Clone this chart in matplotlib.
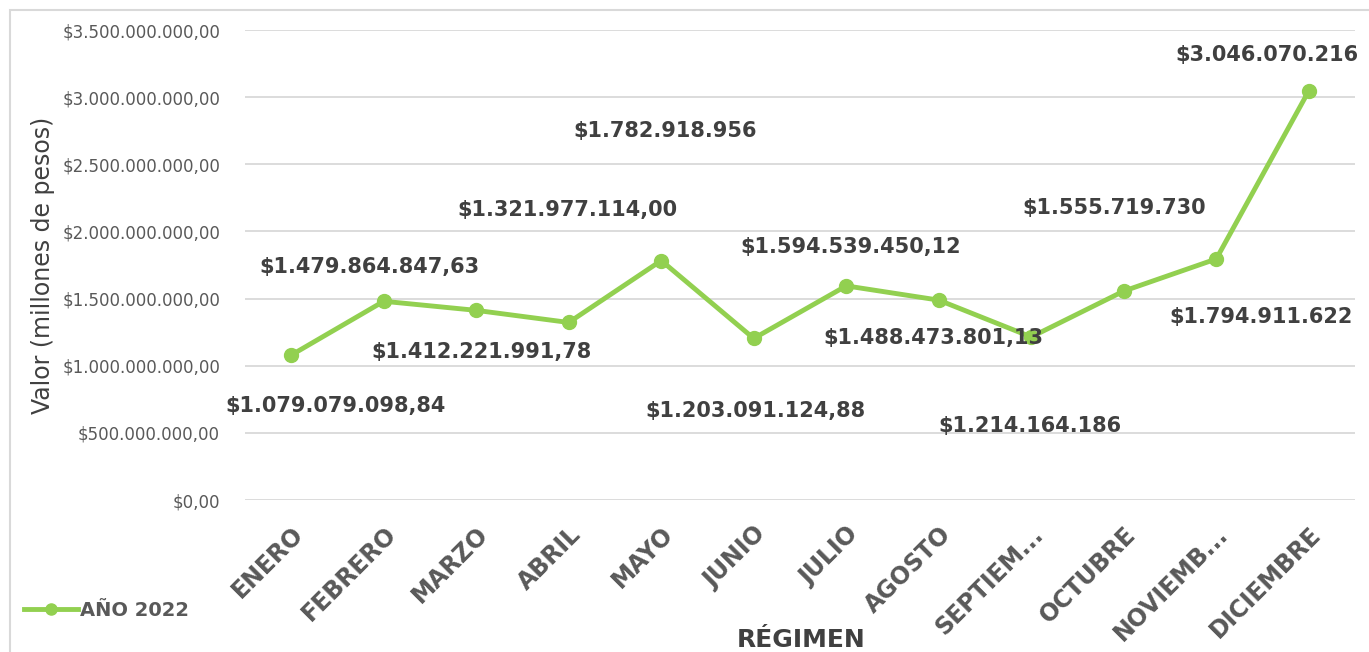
import matplotlib.pyplot as plt
from matplotlib.patches import Rectangle
from matplotlib.ticker import FuncFormatter, MultipleLocator

meses = ["ENERO", "FEBRERO", "MARZO", "ABRIL", "MAYO", "JUNIO", "JULIO",
         "AGOSTO", "SEPTIEM...", "OCTUBRE", "NOVIEMB...", "DICIEMBRE"]
valores = [1079079098.84, 1479864847.63, 1412221991.78, 1321977114.00,
           1782918956, 1203091124.88, 1594539450.12, 1488473801.13,
           1214164186, 1555719730, 1794911622, 3046070216]
etiquetas = ["$1.079.079.098,84", "$1.479.864.847,63", "$1.412.221.991,78",
             "$1.321.977.114,00", "$1.782.918.956", "$1.203.091.124,88",
             "$1.594.539.450,12", "$1.488.473.801,13", "$1.214.164.186",
             "$1.555.719.730", "$1.794.911.622", "$3.046.070.216"]

# desplazamiento de cada etiqueta (puntos)
desplaz = [(32, -37), (-10, 25), (4, -30), (-1, 81), (3, 93), (1, -52),
           (3, 28), (-4, -27), (-1, -64), (-7, 60), (32, -42), (-30, 26)]

verde = "#92D050"
gris = "#595959"
oscuro = "#404040"


def pesos(v, pos):
    s = f"{v:,.2f}"
    s = s.replace(",", "X").replace(".", ",").replace("X", ".")
    return "$" + s


fig = plt.figure(figsize=(13.69, 6.52), dpi=100)
fig.patches.append(Rectangle((10 / 1369, -0.1), 1.2, (652 - 10) / 652 + 0.1,
                             transform=fig.transFigure, fill=False,
                             edgecolor="#D9D9D9", linewidth=1.5))
ax = fig.add_axes([245 / 1369, (652 - 500) / 652, 1110 / 1369, 470 / 652])

x = list(range(len(meses)))
ax.plot(x, valores, color=verde, linewidth=3.5, marker="o", markersize=10,
        label="AÑO 2022", zorder=3)

for i, (v, t) in enumerate(zip(valores, etiquetas)):
    ax.annotate(t, (i, v), xytext=desplaz[i], textcoords="offset points",
                ha="center", va="center", fontsize=15, fontweight="bold",
                color=oscuro)

ax.set_xlim(-0.5, len(meses) - 0.5)
ax.set_ylim(0, 3.5e9)
ax.yaxis.set_major_locator(MultipleLocator(5e8))
ax.yaxis.set_major_formatter(FuncFormatter(pesos))
ax.grid(axis="y", color="#D9D9D9", linewidth=1.3)
ax.set_axisbelow(True)
for s in ax.spines.values():
    s.set_visible(False)
ax.tick_params(length=0)
ax.tick_params(axis="y", labelsize=12, labelcolor=gris, pad=18)
ax.set_xticks(x)
ax.set_xticklabels(meses, rotation=45, ha="right", rotation_mode="anchor",
                   fontsize=17, fontweight="bold", color=gris)
ax.tick_params(axis="x", pad=16)

ax.set_ylabel("Valor (millones de pesos)", fontsize=17, color=oscuro)
ax.yaxis.set_label_coords(-0.171, 0.5)
fig.text(801 / 1369, 1 - 640 / 652, "RÉGIMEN", ha="center", va="center",
         fontsize=18, fontweight="bold", color=oscuro)

leg = fig.legend(loc="center left", bbox_to_anchor=(6 / 1369, 1 - 610 / 652),
                 frameon=False, fontsize=14, handlelength=2.8,
                 handletextpad=0.1, markerscale=0.8)
for t in leg.get_texts():
    t.set_fontweight("bold")
    t.set_color(gris)

fig.savefig("out.png", dpi=100)
